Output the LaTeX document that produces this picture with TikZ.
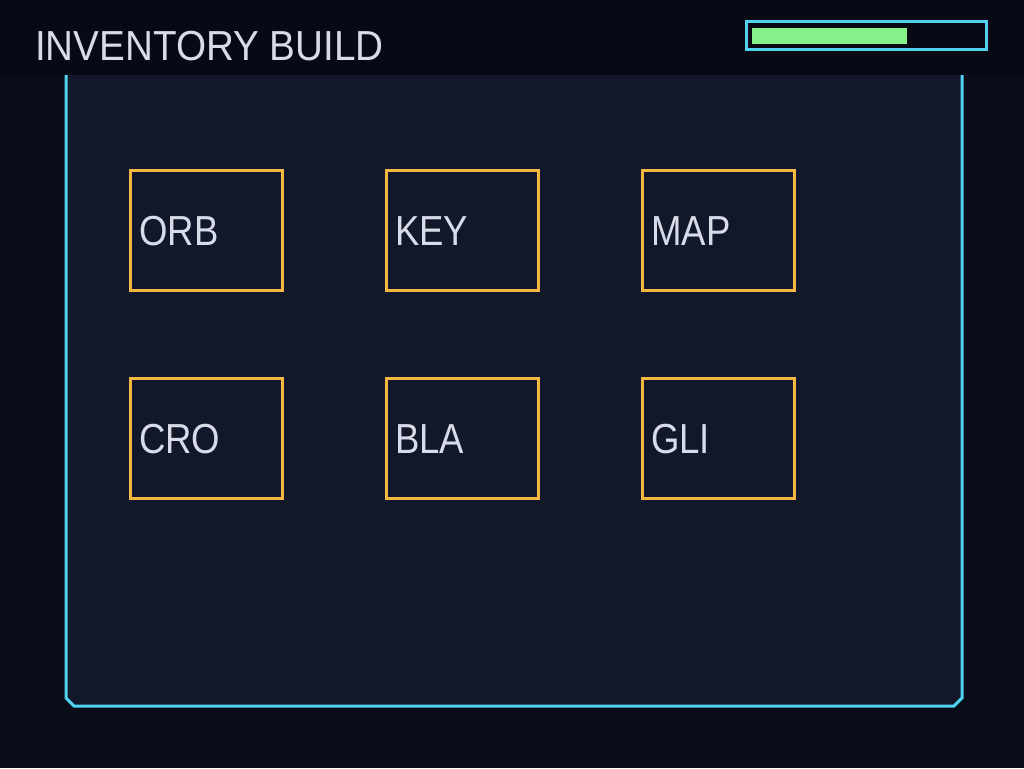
\documentclass[tikz,border=0pt]{standalone}
\usepackage{fontspec}
\setmainfont{Liberation Sans}
\definecolor{bg}{HTML}{0A0D18}
\definecolor{bar}{HTML}{070A14}
\definecolor{panel}{HTML}{121829}
\definecolor{cyanb}{HTML}{4FD3F0}
\definecolor{orng}{HTML}{F5B642}
\definecolor{grn}{HTML}{88F088}
\definecolor{txt}{HTML}{D8DCE8}
\tikzset{
  slot/.style={draw=orng,line width=3pt,fill=panel,minimum width=152pt,minimum height=120pt,inner sep=0pt},
  lbl/.style={text=txt,font=\fontsize{42}{42}\selectfont,anchor=base west,inner sep=0pt},
}
\begin{document}
\begin{tikzpicture}[x=1pt,y=-1pt]
\useasboundingbox (0,0) rectangle (1024,768);
\fill[bg] (0,0) rectangle (1024,768);
\fill[bar] (0,0) rectangle (1024,75);
\fill[panel] (66,75) -- (66,698) -- (74,706) -- (954,706) -- (962,698) -- (962,75) -- cycle;
\draw[cyanb,line width=3pt] (66,75) -- (66,698) -- (74,706) -- (954,706) -- (962,698) -- (962,75);
\node[lbl] (title) at (35,60) {\scalebox{0.92}[1]{INVENTORY BUILD}};
\node[draw=cyanb,line width=3pt,minimum width=240pt,minimum height=28pt,inner sep=0pt] (prog) at (866,35.5) {};
\fill[grn] (752,28) rectangle (907,44);
\foreach \n/\t/\x/\y in {a/ORB/129/169,b/KEY/385/169,c/MAP/641/169,d/CRO/129/377,e/BLA/385/377,f/GLI/641/377}{
  \node[slot,anchor=north west] (\n) at (\x,\y) {};
  \node[lbl] (\n t) at ([xshift=10pt,yshift=-15pt]\n.west) {\scalebox{0.87}[1]{\t}};
}
\end{tikzpicture}
\end{document}
